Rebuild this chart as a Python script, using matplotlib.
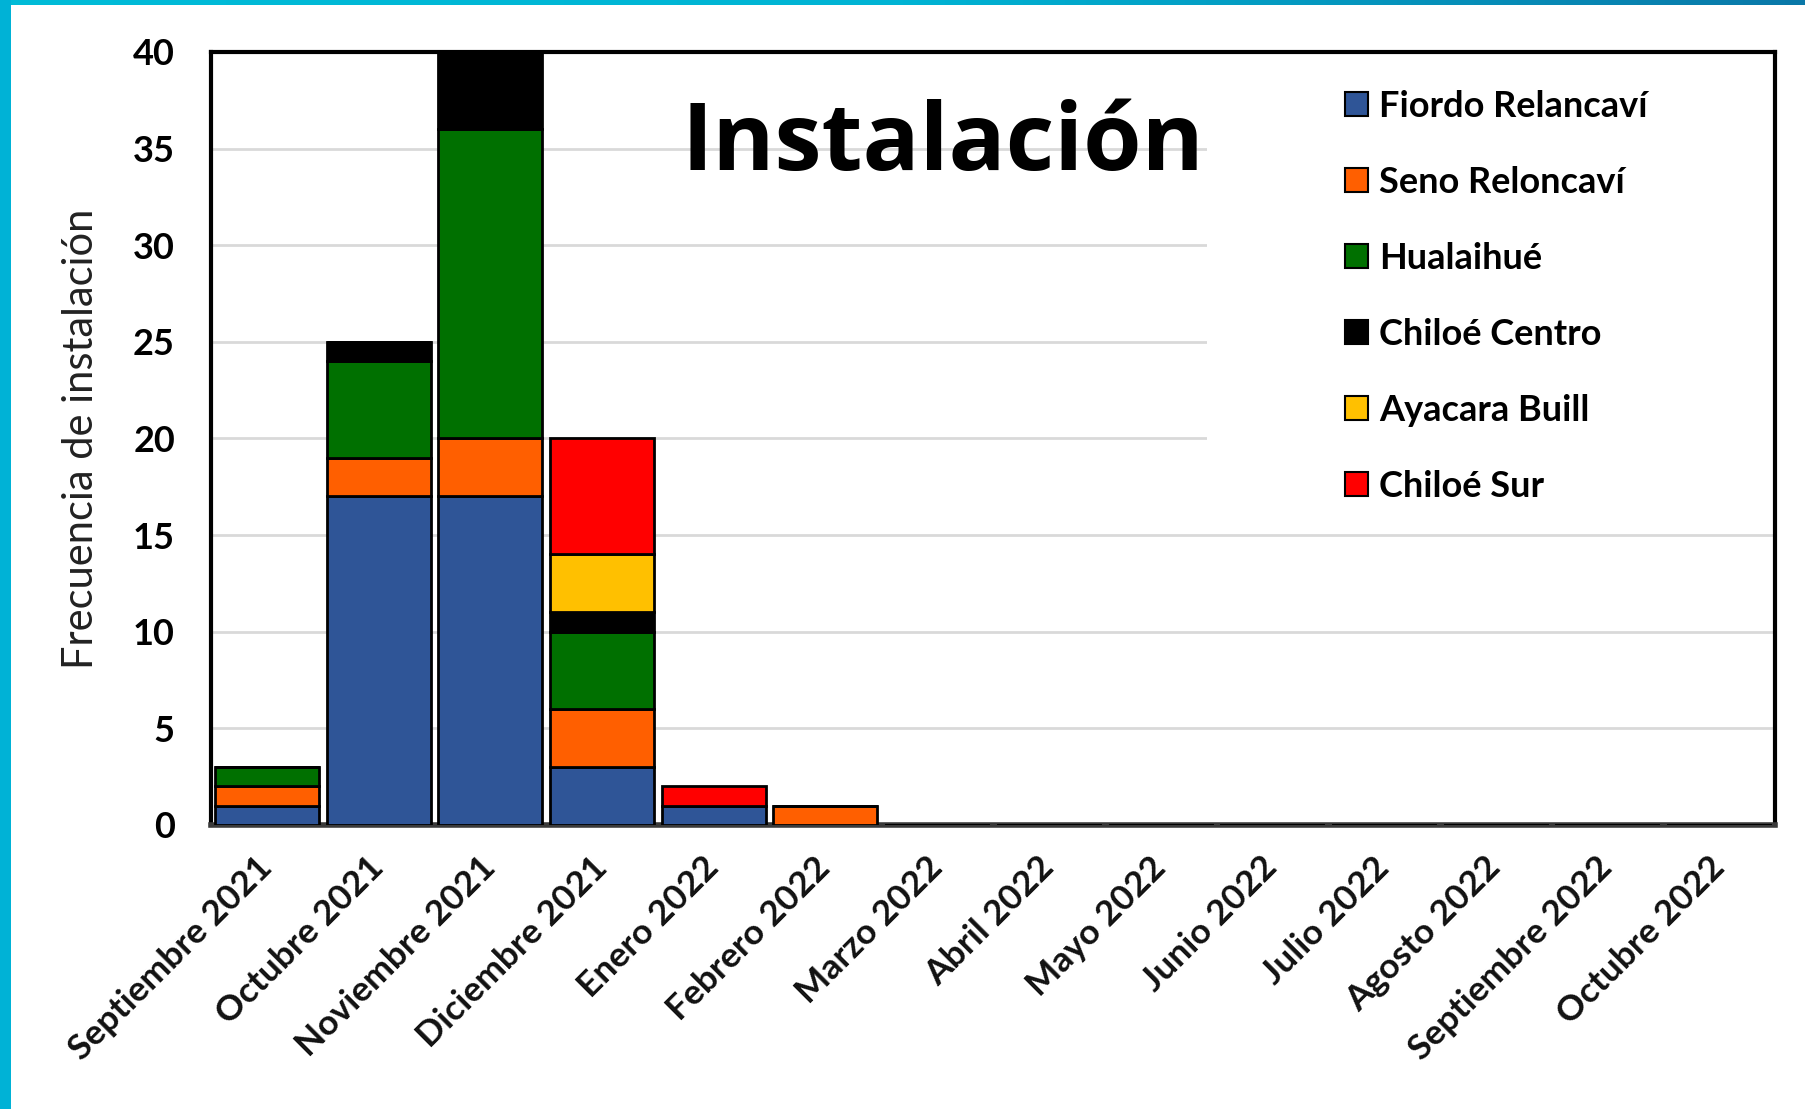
import numpy as np
import matplotlib.pyplot as plt
from matplotlib.patches import Rectangle, Patch
from matplotlib.colors import LinearSegmentedColormap

meses = ['Septiembre 2021', 'Octubre 2021', 'Noviembre 2021', 'Diciembre 2021',
         'Enero 2022', 'Febrero 2022', 'Marzo 2022', 'Abril 2022', 'Mayo 2022',
         'Junio 2022', 'Julio 2022', 'Agosto 2022', 'Septiembre 2022', 'Octubre 2022']

zonas = ['Fiordo Relancaví', 'Seno Reloncaví', 'Hualaihué',
         'Chiloé Centro', 'Ayacara Buill', 'Chiloé Sur']

fiordo_relancavi = [1, 17, 17, 3, 1, 0, 0, 0, 0, 0, 0, 0, 0, 0]
seno_reloncavi = [1, 2, 3, 3, 0, 1, 0, 0, 0, 0, 0, 0, 0, 0]
hualaihue = [1, 5, 16, 4, 0, 0, 0, 0, 0, 0, 0, 0, 0, 0]
chiloe_centro = [0, 1, 4, 1, 0, 0, 0, 0, 0, 0, 0, 0, 0, 0]
ayacara_buill = [0, 0, 0, 3, 0, 0, 0, 0, 0, 0, 0, 0, 0, 0]
chiloe_sur = [0, 0, 0, 6, 1, 0, 0, 0, 0, 0, 0, 0, 0, 0]

colores = ['#2F5597', '#FF5F00', '#007000', '#000000', '#FFC000', '#FF0000']

series = [fiordo_relancavi, seno_reloncavi, hualaihue,
          chiloe_centro, ayacara_buill, chiloe_sur]

fig = plt.figure(figsize=(18.06, 11.09), dpi=100)
fig.patch.set_facecolor('white')

# marco cian de la imagen
top = fig.add_axes([0, 1 - 5 / 1109, 1, 5 / 1109])
grad = np.linspace(0, 1, 256).reshape(1, -1)
cmap = LinearSegmentedColormap.from_list('borde', ['#00BCD8', '#00B4D4', '#0A78A8'])
top.imshow(grad, aspect='auto', cmap=cmap)
top.axis('off')
fig.patches.append(Rectangle((0, 0), 11 / 1806, 1, transform=fig.transFigure,
                             facecolor='#00B2D6', edgecolor='none', zorder=5))

ax = fig.add_axes([211 / 1806, 1 - 825 / 1109, 1564 / 1806, 773 / 1109])

x = np.arange(len(meses))
base = np.zeros(len(meses))
for nombre, vals, col in zip(zonas, series, colores):
    vals = np.array(vals, dtype=float)
    ax.bar(x, vals, bottom=base, width=0.93, color=col, edgecolor='black',
           linewidth=2, zorder=3)
    base += vals

ax.set_xlim(-0.5, len(meses) - 0.5)
ax.set_ylim(0, 40)
ax.set_yticks(np.arange(0, 41, 5))
ax.yaxis.grid(True, color='#d9d9d9', linewidth=2)
ax.set_axisbelow(True)

# zona blanca detras de la leyenda
ax.add_patch(Rectangle((0.637, 0.42), 0.363, 0.58, transform=ax.transAxes,
                       facecolor='white', edgecolor='none', zorder=1))

for s in ['top', 'right', 'left']:
    ax.spines[s].set_linewidth(3)
    ax.spines[s].set_color('black')
ax.spines['bottom'].set_linewidth(4)
ax.spines['bottom'].set_color('#3a3a3a')

ax.tick_params(axis='both', length=0)
ax.tick_params(axis='y', pad=26)
ax.tick_params(axis='x', pad=27)
ax.set_xticks(x)
ax.set_xticklabels(meses, rotation=45, ha='right', va='center',
                   rotation_mode='anchor', fontsize=25.5, family='Lato',
                   fontweight='bold', color='#111111')
for lab in ax.get_yticklabels():
    lab.set_fontsize(26)
    lab.set_fontweight('bold')
    lab.set_family('Lato')

ax.set_ylabel('Frecuencia de instalación', fontsize=30, family='Lato',
              color='#222222', labelpad=24)

handles = [Patch(facecolor=c, edgecolor='black', linewidth=1.5) for c in colores]
ax.legend(handles, zonas, loc='upper left', bbox_to_anchor=(1327 / 1806, 1 - 72 / 1109),
          bbox_transform=fig.transFigure, frameon=False, borderpad=0,
          prop={'family': 'Lato', 'weight': 'bold', 'size': 26},
          handlelength=0.64, handleheight=0.64, handletextpad=0.3,
          labelspacing=1.19)

fig.text(943 / 1806, 1 - 170 / 1109, 'Instalación', ha='center', va='baseline',
         fontsize=68, fontweight='bold', family='Open Sans', color='black')

fig.savefig('out.png', dpi=100, facecolor='white')
